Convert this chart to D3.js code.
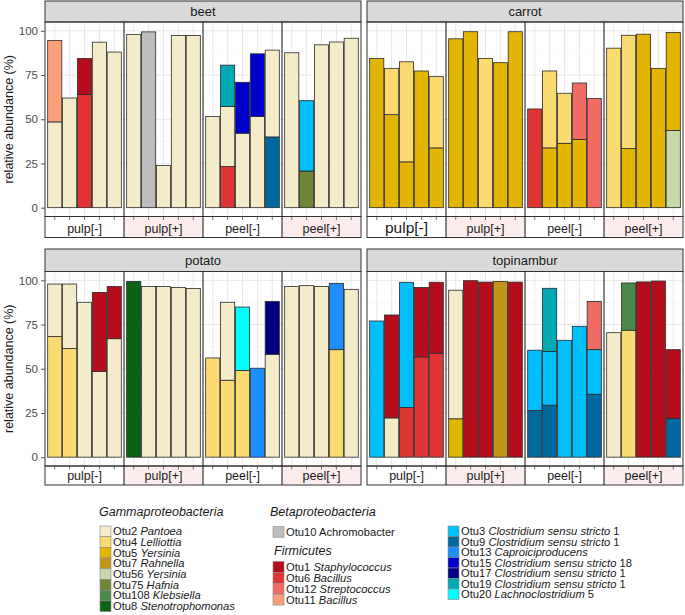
<!DOCTYPE html>
<html>
<head>
<meta charset="utf-8">
<title>relative abundance</title>
<style>
  body { margin: 0; background: #fff; }
  text { font-family: "Liberation Sans", Arial, sans-serif; }
</style>
</head>
<body>
<script src="https://cdn.jsdelivr.net/npm/d3@7"></script>
<script>
// ---- data ----
const plants = ["beet", "carrot", "potato", "topinambur"];
const groups = ["pulp[-]", "pulp[+]", "peel[-]", "peel[+]"];
const otuIds = ["Otu2", "Otu4", "Otu5", "Otu7", "Otu56", "Otu75", "Otu108", "Otu8",
  "Otu10", "Otu1", "Otu6", "Otu12", "Otu11",
  "Otu3", "Otu9", "Otu13", "Otu15", "Otu17", "Otu19", "Otu20"];
const otuColors = ["#f4ecc8", "#fcda72", "#e2b600", "#c4941a", "#c6d9a9", "#6f8535", "#4b8a4b", "#0a6414",
  "#bdbdbd", "#b60d1d", "#e13535", "#f26a64", "#fca07a",
  "#00bfff", "#0068a0", "#1e8fff", "#0000cd", "#000080", "#00aab5", "#00ffff"];

// each bar: list of [otu, cumulative top %], bottom to top; 5 bars per group
const beet = [
  [["Otu2", 48.5], ["Otu11", 94.6]], [["Otu2", 62]], [["Otu6", 64], ["Otu1", 84.4]], [["Otu2", 93.6]], [["Otu2", 88]],
  [["Otu2", 97.9]], [["Otu10", 99.4]], [["Otu2", 23.9]], [["Otu2", 97.4]], [["Otu2", 97.4]],
  [["Otu2", 51.5]], [["Otu6", 23.3], ["Otu2", 57.3], ["Otu19", 80.6]], [["Otu2", 42.1], ["Otu15", 70.9]], [["Otu2", 51.5], ["Otu15", 87]], [["Otu9", 40], ["Otu2", 89.1]],
  [["Otu2", 87.6]], [["Otu75", 20.7], ["Otu3", 60.5]], [["Otu2", 92.1]], [["Otu2", 93.7]], [["Otu2", 95.8]]
];
const carrot = [
  [["Otu5", 84.4]], [["Otu5", 52.6], ["Otu4", 78.8]], [["Otu5", 25.9], ["Otu4", 82.5]], [["Otu5", 77.3]], [["Otu5", 33.8], ["Otu4", 74.1]],
  [["Otu5", 95.5]], [["Otu5", 99.5]], [["Otu4", 84.4]], [["Otu5", 82]], [["Otu5", 99.5]],
  [["Otu6", 55.8]], [["Otu5", 33.8], ["Otu4", 77.3]], [["Otu5", 36.4], ["Otu4", 64.7]], [["Otu5", 38.6], ["Otu12", 70.5]], [["Otu12", 61.7]],
  [["Otu4", 90.2]], [["Otu5", 33.4], ["Otu4", 97.5]], [["Otu5", 98.1]], [["Otu5", 78.8]], [["Otu56", 43.6], ["Otu5", 99.1]]
];
const potato = [
  [["Otu4", 68.2], ["Otu2", 97.9]], [["Otu4", 61.4], ["Otu2", 97.9]], [["Otu2", 87.6]], [["Otu2", 48.4], ["Otu1", 93.2]], [["Otu2", 67], ["Otu1", 96.5]],
  [["Otu8", 99.4]], [["Otu2", 96.5]], [["Otu2", 96.5]], [["Otu2", 96]], [["Otu2", 95.4]],
  [["Otu4", 56.1]], [["Otu4", 43.5], ["Otu2", 87.6]], [["Otu4", 49], ["Otu20", 84.9]], [["Otu13", 50.3]], [["Otu2", 58.2], ["Otu17", 88.1]],
  [["Otu2", 96.5]], [["Otu2", 97]], [["Otu2", 96.5]], [["Otu4", 60.8], ["Otu13", 98.3]], [["Otu2", 94.9]]
];
const topinambur = [
  [["Otu3", 77]], [["Otu2", 22.2], ["Otu1", 80.4]], [["Otu6", 28.1], ["Otu3", 98.9]], [["Otu6", 56.7], ["Otu1", 96]], [["Otu6", 58.8], ["Otu1", 98.9]],
  [["Otu5", 21.7], ["Otu2", 94.4]], [["Otu1", 99.8]], [["Otu1", 99]], [["Otu7", 99.4]], [["Otu1", 99]],
  [["Otu9", 26.4], ["Otu3", 60.5]], [["Otu9", 29.4], ["Otu3", 59.7], ["Otu19", 95.5]], [["Otu3", 66.1]], [["Otu3", 74]], [["Otu9", 35.6], ["Otu3", 60.8], ["Otu12", 88.1]],
  [["Otu2", 70.4]], [["Otu4", 71.8], ["Otu108", 98.5]], [["Otu1", 99.1]], [["Otu1", 99.6]], [["Otu9", 22], ["Otu1", 60.8]]
];
const yTicks = [0, 25, 50, 75, 100];

// legend: [otu, plain part, italic part, trailing plain part]
const legendGamma = [["Otu2", "Otu2 ", "Pantoea", ""], ["Otu4", "Otu4 ", "Lelliottia", ""], ["Otu5", "Otu5 ", "Yersinia", ""],
  ["Otu7", "Otu7 ", "Rahnella", ""], ["Otu56", "Otu56 ", "Yersinia", ""], ["Otu75", "Otu75 ", "Hafnia", ""],
  ["Otu108", "Otu108 ", "Klebsiella", ""], ["Otu8", "Otu8 ", "Stenotrophomonas", ""]];
const legendBeta = [["Otu10", "Otu10 Achromobacter", "", ""]];
const legendFirm = [["Otu1", "Otu1 ", "Staphylococcus", ""], ["Otu6", "Otu6 ", "Bacillus", ""],
  ["Otu12", "Otu12 ", "Streptococcus", ""], ["Otu11", "Otu11 ", "Bacillus", ""]];
const legendClost = [["Otu3", "Otu3 ", "Clostridium sensu stricto", " 1"], ["Otu9", "Otu9 ", "Clostridium sensu stricto", " 1"],
  ["Otu13", "Otu13 ", "Caproiciproducens", ""], ["Otu15", "Otu15 ", "Clostridium sensu stricto", " 18"],
  ["Otu17", "Otu17 ", "Clostridium sensu stricto", " 1"], ["Otu19", "Otu19 ", "Clostridium sensu stricto", " 1"],
  ["Otu20", "Otu20 ", "Lachnoclostridium", " 5"]];

const plantData = { beet: beet, carrot: carrot, potato: potato, topinambur: topinambur };
const color = d3.scaleOrdinal().domain(otuIds).range(otuColors);

const svg = d3.select("body").append("svg").attr("width", 685).attr("height", 615);

// panel frames
const panels = [
  { plant: "beet", x0: 45, x1: 361, sTop: 1, pTop: 22, pBot: 216.5, gBot: 237.5, axis: true },
  { plant: "carrot", x0: 367, x1: 683, sTop: 1, pTop: 22, pBot: 216.5, gBot: 237.5, axis: false },
  { plant: "potato", x0: 45, x1: 361, sTop: 249, pTop: 271.5, pBot: 466, gBot: 485, axis: true },
  { plant: "topinambur", x0: 367, x1: 683, sTop: 249, pTop: 271.5, pBot: 466, gBot: 485, axis: false }
];

panels.forEach(p => {
  const g = svg.append("g");
  const y = d3.scaleLinear().domain([-5, 105]).range([p.pBot, p.pTop]);
  const gx = d3.scaleBand().domain(groups).range([p.x0, p.x1]);
  const bars = plantData[p.plant];

  // grid
  g.selectAll(".minor").data([12.5, 37.5, 62.5, 87.5]).enter().append("line")
    .attr("x1", p.x0).attr("x2", p.x1).attr("y1", d => y(d)).attr("y2", d => y(d))
    .attr("stroke", "#f3f3f3").attr("stroke-width", 0.6);
  g.selectAll(".major").data(yTicks).enter().append("line")
    .attr("x1", p.x0).attr("x2", p.x1).attr("y1", d => y(d)).attr("y2", d => y(d))
    .attr("stroke", "#e8e8e8").attr("stroke-width", 1);

  const centers = [];
  groups.forEach((grp, gi) => {
    const bx = d3.scaleBand().domain(d3.range(5))
      .range([gx(grp), gx(grp) + gx.bandwidth()]).paddingInner(0.05).paddingOuter(0.18);
    d3.range(5).forEach(k => {
      const bar = bars[gi * 5 + k];
      const cx = bx(k) + bx.bandwidth() / 2;
      centers.push(cx);
      g.append("line").attr("x1", cx).attr("x2", cx).attr("y1", p.pTop).attr("y2", p.pBot)
        .attr("stroke", "#e8e8e8").attr("stroke-width", 1);
      let prev = 0;
      const segs = bar.map(s => { const o = { otu: s[0], y0: prev, y1: s[1] }; prev = s[1]; return o; });
      g.selectAll(null).data(segs).enter().append("rect")
        .attr("x", bx(k)).attr("width", bx.bandwidth())
        .attr("y", d => y(d.y1)).attr("height", d => y(d.y0) - y(d.y1))
        .attr("fill", d => color(d.otu))
        .attr("stroke", "#2a2a2a").attr("stroke-width", 0.8);
    });
  });

  // top strip
  g.append("rect").attr("x", p.x0).attr("y", p.sTop).attr("width", p.x1 - p.x0).attr("height", p.pTop - p.sTop)
    .attr("fill", "#d9d9d9").attr("stroke", "#333").attr("stroke-width", 1);
  g.append("text").attr("x", (p.x0 + p.x1) / 2).attr("y", (p.sTop + p.pTop) / 2 + 4.5)
    .attr("text-anchor", "middle").attr("font-size", 13).attr("fill", "#1a1a1a").text(p.plant);

  // bottom group strip
  g.selectAll(".gs").data(groups).enter().append("rect")
    .attr("x", d => gx(d)).attr("y", p.pBot).attr("width", gx.bandwidth()).attr("height", p.gBot - p.pBot)
    .attr("fill", (d, i) => i % 2 ? "#fbeced" : "#fff");
  g.selectAll(".gl").data(groups).enter().append("text")
    .attr("x", d => gx(d) + gx.bandwidth() / 2).attr("y", p.gBot - 5)
    .attr("text-anchor", "middle").attr("fill", "#1a1a1a")
    .attr("font-size", (d, i) => (p.plant === "carrot" && i === 0) ? 15.5 : 12.5)
    .text(d => d);
  g.selectAll(".xt").data(centers).enter().append("line")
    .attr("x1", d => d).attr("x2", d => d).attr("y1", p.pBot).attr("y2", p.pBot + 3.5)
    .attr("stroke", "#555").attr("stroke-width", 0.8);

  // panel border and group dividers
  g.append("rect").attr("x", p.x0).attr("y", p.pTop).attr("width", p.x1 - p.x0).attr("height", p.pBot - p.pTop)
    .attr("fill", "none").attr("stroke", "#333").attr("stroke-width", 1);
  g.append("rect").attr("x", p.x0).attr("y", p.pBot).attr("width", p.x1 - p.x0).attr("height", p.gBot - p.pBot)
    .attr("fill", "none").attr("stroke", "#333").attr("stroke-width", 1);
  g.selectAll(".div").data(groups.slice(1)).enter().append("line")
    .attr("x1", d => gx(d)).attr("x2", d => gx(d)).attr("y1", p.pTop).attr("y2", p.gBot)
    .attr("stroke", "#111").attr("stroke-width", 1);

  if (p.axis) {
    const ax = g.append("g").attr("transform", `translate(${p.x0},0)`)
      .call(d3.axisLeft(y).tickValues(yTicks).tickSize(4).tickPadding(3));
    ax.select(".domain").remove();
    ax.selectAll("line").attr("stroke", "#555");
    ax.selectAll("text").attr("font-size", 11.5).attr("fill", "#4d4d4d")
      .attr("font-family", "Liberation Sans, Arial, sans-serif");
    svg.append("text")
      .attr("transform", `translate(12.5,${(p.pTop + p.pBot) / 2}) rotate(-90)`)
      .attr("text-anchor", "middle").attr("font-size", 12.5).attr("fill", "#1a1a1a")
      .text("relative abundance (%)");
  }
});

// legend
function legendBlock(items, x, yTop, rowH) {
  const lg = svg.append("g");
  items.forEach((it, i) => {
    const yy = yTop + i * rowH;
    lg.append("rect").attr("x", x).attr("y", yy).attr("width", 11).attr("height", rowH)
      .attr("fill", color(it[0])).attr("stroke", "#8a8a8a").attr("stroke-width", 0.6);
    const t = lg.append("text").attr("x", x + 13).attr("y", yy + rowH - 1.5)
      .attr("font-size", 11.2).attr("fill", "#1a1a1a");
    t.append("tspan").text(it[1]);
    if (it[2]) t.append("tspan").attr("font-style", "italic").text(it[2]);
    if (it[3]) t.append("tspan").text(it[3]);
  });
}
function header(txt, x, yy) {
  svg.append("text").attr("x", x).attr("y", yy).attr("font-size", 12.5).attr("font-style", "italic")
    .attr("fill", "#1a1a1a").text(txt);
}
header("Gammaproteobacteria", 99, 516);
legendBlock(legendGamma, 100, 526, 10.7);
header("Betaproteobacteria", 270, 516);
legendBlock(legendBeta, 273, 526.5, 10.7);
header("Firmicutes", 274, 555);
legendBlock(legendFirm, 273, 561.5, 10.9);
legendBlock(legendClost, 448, 526, 10.5);
</script>
</body>
</html>
